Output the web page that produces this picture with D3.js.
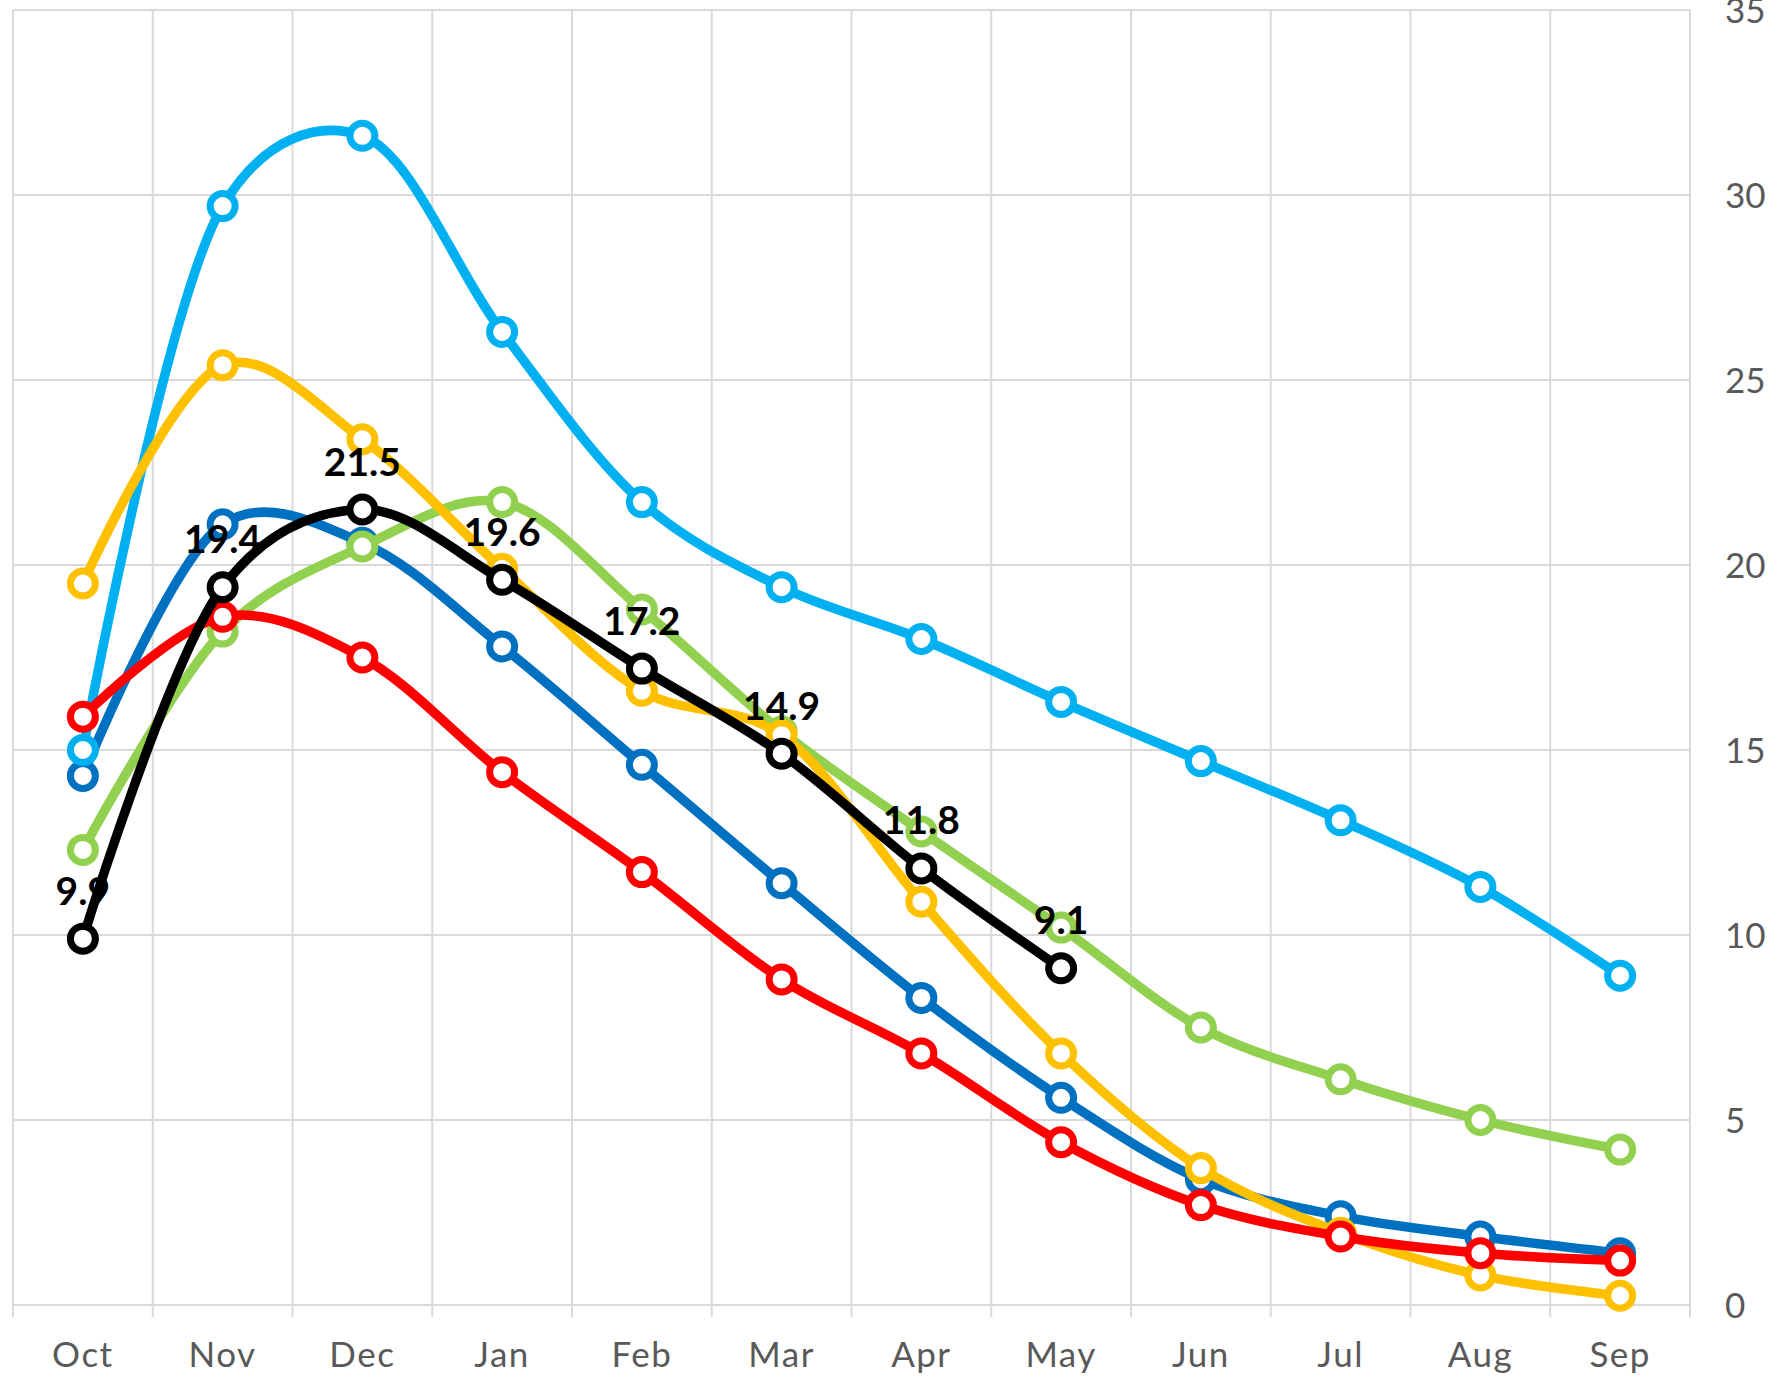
<!DOCTYPE html>
<html>
<head>
<meta charset="utf-8">
<script src="https://cdn.jsdelivr.net/npm/d3@7"></script>
<style>
  body { margin: 0; background: #fff; }
  svg { display: block; }
</style>
</head>
<body>
<div id="chart"></div>
<script>
// months and series values
var months = ["Oct", "Nov", "Dec", "Jan", "Feb", "Mar", "Apr", "May", "Jun", "Jul", "Aug", "Sep"];
var yTicks = [0, 5, 10, 15, 20, 25, 30, 35];

var darkBlue  = [14.3, 21.1, 20.6, 17.8, 14.6, 11.4, 8.3, 5.6, 3.4, 2.4, 1.85, 1.4];
var lightBlue = [15.0, 29.7, 31.6, 26.3, 21.7, 19.4, 18.0, 16.3, 14.7, 13.1, 11.3, 8.9];
var green     = [12.3, 18.2, 20.5, 21.7, 18.8, 15.5, 12.8, 10.2, 7.5, 6.1, 5.0, 4.2];
var yellow    = [19.5, 25.4, 23.4, 19.9, 16.6, 15.4, 10.9, 6.8, 3.7, 1.95, 0.8, 0.25];
var red       = [15.9, 18.6, 17.5, 14.4, 11.7, 8.8, 6.8, 4.4, 2.7, 1.85, 1.4, 1.2];
var current   = [9.9, 19.4, 21.5, 19.6, 17.2, 14.9, 11.8, 9.1];

var series = [
  {name: "darkBlue", values: darkBlue, color: "#0070C0"},
  {name: "lightBlue", values: lightBlue, color: "#00B0F0"},
  {name: "green", values: green, color: "#92D050"},
  {name: "yellow", values: yellow, color: "#FFC000"},
  {name: "red", values: red, color: "#FF0000"}
];
var currentSeries = {name: "current", values: current, color: "#000000"};

var width = 1772, height = 1376;
var plot = {left: 13, right: 1690, top: 10, bottom: 1305};

var svg = d3.select("#chart").append("svg")
  .attr("width", width)
  .attr("height", height);

var x = d3.scaleBand().domain(months).range([plot.left, plot.right]).paddingInner(0).paddingOuter(0);
var y = d3.scaleLinear().domain([0, 35]).range([plot.bottom, plot.top]);

function cx(i) { return x(months[i]) + x.bandwidth() / 2; }

// gridlines
var grid = svg.append("g");
grid.selectAll("line.h")
  .data(yTicks).enter().append("line")
  .attr("x1", plot.left).attr("x2", plot.right)
  .attr("y1", function(d) { return y(d); }).attr("y2", function(d) { return y(d); })
  .style("stroke", "#D9D9D9").style("stroke-width", 2);

var bounds = months.map(function(m) { return x(m); }).concat([plot.right]);
grid.selectAll("line.v")
  .data(bounds).enter().append("line")
  .attr("x1", function(d) { return d; }).attr("x2", function(d) { return d; })
  .attr("y1", plot.top).attr("y2", plot.bottom + 12)
  .style("stroke", "#D9D9D9").style("stroke-width", 2);

// y labels on the right
svg.selectAll("text.ytick")
  .data(yTicks).enter().append("text")
  .attr("x", 1725)
  .attr("y", function(d) { return y(d); })
  .attr("dy", "0.36em")
  .style("font-family", "Lato, 'DejaVu Sans', sans-serif")
  .style("font-size", "35px")
  .style("fill", "#595959")
  .text(function(d) { return d; });

// x labels
svg.selectAll("text.xtick")
  .data(months).enter().append("text")
  .attr("x", function(d, i) { return cx(i); })
  .attr("y", 1354)
  .attr("dy", "0.36em")
  .attr("text-anchor", "middle")
  .style("font-family", "Lato, 'DejaVu Sans', sans-serif")
  .style("font-size", "35px")
  .style("letter-spacing", "1.5px")
  .style("fill", "#595959")
  .text(function(d) { return d; });

var line = d3.line()
  .x(function(d, i) { return cx(i); })
  .y(function(d) { return y(d); })
  .curve(d3.curveCatmullRom.alpha(0.25));

function drawSeries(s) {
  var g = svg.append("g");
  g.append("path")
    .attr("d", line(s.values))
    .style("fill", "none")
    .style("stroke", s.color)
    .style("stroke-width", 9.5)
    .style("stroke-linejoin", "round");
  g.selectAll("circle")
    .data(s.values).enter().append("circle")
    .attr("cx", function(d, i) { return cx(i); })
    .attr("cy", function(d) { return y(d); })
    .attr("r", 12.5)
    .style("fill", "#fff")
    .style("stroke", s.color)
    .style("stroke-width", 7);
}

series.forEach(drawSeries);

// data labels for the current season sit under its line
svg.selectAll("text.lbl")
  .data(current).enter().append("text")
  .attr("x", function(d, i) { return cx(i); })
  .attr("y", function(d) { return y(d) - 34; })
  .attr("text-anchor", "middle")
  .style("font-family", "Lato, 'Liberation Sans', sans-serif")
  .style("font-weight", "bold")
  .style("font-size", "39px")
  .style("fill", "#000")
  .text(function(d) { return d.toFixed(1); });

drawSeries(currentSeries);
</script>
</body>
</html>
